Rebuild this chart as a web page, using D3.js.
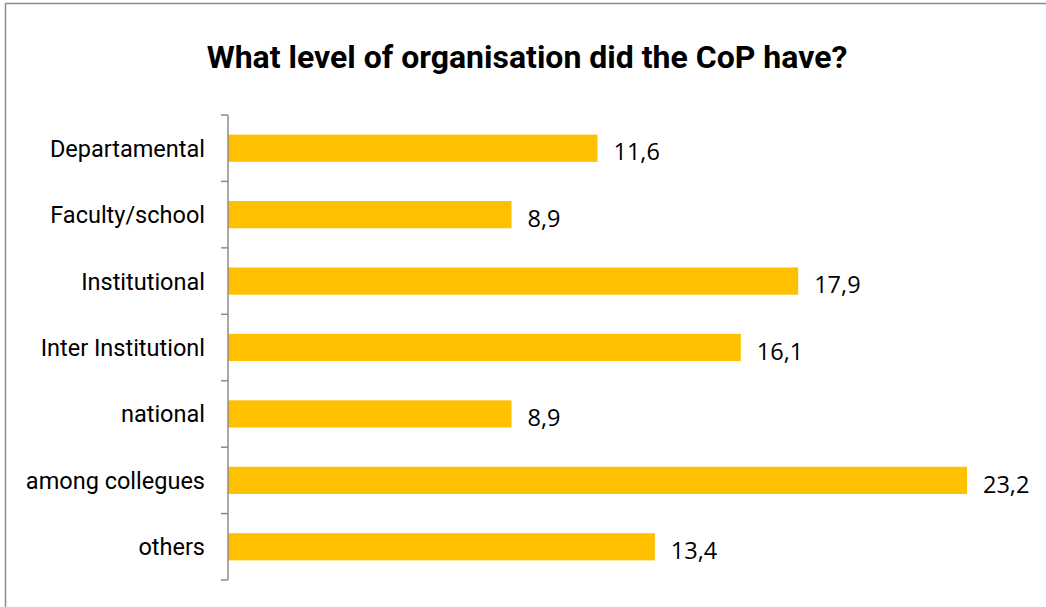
<!DOCTYPE html>
<html>
<head>
<meta charset="utf-8">
<script src="https://cdn.jsdelivr.net/npm/d3@7"></script>
<style>
  html, body { margin: 0; padding: 0; background: #fff; }
  svg { display: block; }
</style>
</head>
<body>
<svg id="chart" width="1046" height="607"></svg>
<script>
// Levels of organisation and their shares (%)
const categories = ["Departamental", "Faculty/school", "Institutional", "Inter Institutionl", "national", "among collegues", "others"];
const values = [11.6, 8.9, 17.9, 16.1, 8.9, 23.2, 13.4];
const titleText = "What level of organisation did the CoP have?";

const svg = d3.select("#chart");
const W = 1046, H = 607;

// chart frame
svg.append("rect")
  .attr("x", 5.5).attr("y", 3.5)
  .attr("width", W + 10).attr("height", H + 10)
  .attr("fill", "#fff").attr("stroke", "#8c8c8c").attr("stroke-width", 1.5);

svg.append("text")
  .attr("x", 527).attr("y", 68)
  .attr("text-anchor", "middle")
  .attr("font-family", "Roboto, sans-serif")
  .attr("font-weight", "bold")
  .attr("font-size", 32)
  .attr("fill", "#000")
  .text(titleText);

const plotLeft = 228, plotTop = 115, plotBottom = 580;
const x = d3.scaleLinear().domain([0, 23.2]).range([plotLeft, 967]);
const y = d3.scaleBand().domain(categories).range([plotTop, plotBottom]).paddingInner(0.59).paddingOuter(0.295);

const fmt = v => d3.format(".1f")(v).replace(".", ",");

svg.append("g").selectAll("rect")
  .data(values)
  .join("rect")
  .attr("x", x(0))
  .attr("y", (d, i) => y(categories[i]))
  .attr("width", d => x(d) - x(0))
  .attr("height", y.bandwidth())
  .attr("fill", "#FFC000");

svg.append("g").selectAll("text")
  .data(values)
  .join("text")
  .attr("x", d => x(d) + 16)
  .attr("y", (d, i) => y(categories[i]) + y.bandwidth() / 2)
  .attr("dy", "0.52em")
  .attr("font-family", "'Open Sans', sans-serif")
  .attr("font-size", 23.5)
  .attr("fill", "#000")
  .text(d => fmt(d));

// category axis with boundary ticks
const step = (plotBottom - plotTop) / categories.length;
const axis = svg.append("g");
axis.append("line")
  .attr("x1", plotLeft).attr("x2", plotLeft)
  .attr("y1", plotTop).attr("y2", plotBottom)
  .attr("stroke", "#8c8c8c").attr("stroke-width", 1.5);
axis.selectAll("line.tick")
  .data(d3.range(categories.length + 1))
  .join("line")
  .attr("class", "tick")
  .attr("x1", plotLeft - 7).attr("x2", plotLeft)
  .attr("y1", i => plotTop + i * step).attr("y2", i => plotTop + i * step)
  .attr("stroke", "#8c8c8c").attr("stroke-width", 1.5);
axis.selectAll("text")
  .data(categories)
  .join("text")
  .attr("x", 205)
  .attr("y", d => y(d) + y.bandwidth() / 2)
  .attr("dy", "0.36em")
  .attr("text-anchor", "end")
  .attr("font-family", "Roboto, sans-serif")
  .attr("font-size", 23.5)
  .attr("fill", "#000")
  .text(d => d);
</script>
</body>
</html>
